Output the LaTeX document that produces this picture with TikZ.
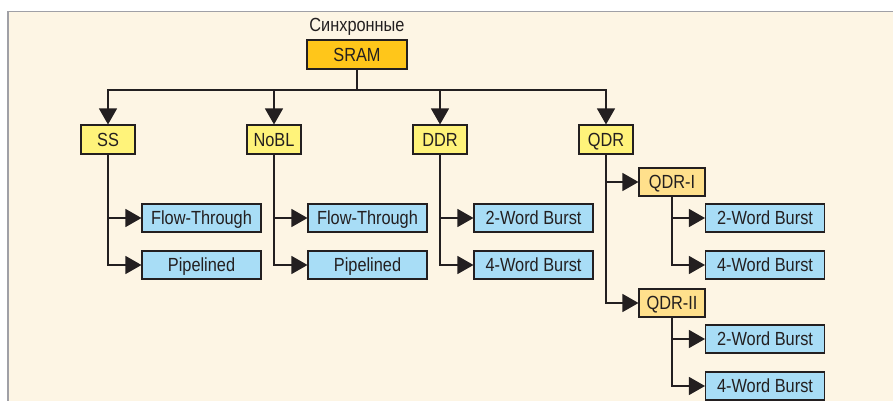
\documentclass[tikz,border=0pt]{standalone}
\usepackage{fontspec}
\setmainfont{Liberation Sans}[FakeStretch=0.86]
\usetikzlibrary{arrows.meta}
\definecolor{cream}{RGB}{253,245,228}
\definecolor{frame}{RGB}{160,160,166}
\definecolor{ink}{RGB}{35,31,32}
\definecolor{gold}{RGB}{255,198,26}
\definecolor{lyellow}{RGB}{255,243,122}
\definecolor{lblue}{RGB}{168,221,246}
\definecolor{lorange}{RGB}{255,224,140}
\tikzset{
  box/.style={draw=ink, line width=1.1pt, inner sep=0pt, text=ink,
    font=\fontsize{19}{20}\selectfont, text height=13.6pt, text depth=0pt},
  rootbox/.style={box, fill=gold, minimum width=100pt, minimum height=29pt},
  midbox/.style={box, fill=lyellow, minimum width=54pt, minimum height=29pt},
  qbox/.style={box, fill=lorange, minimum width=66pt, minimum height=28pt},
  leafbox/.style={box, fill=lblue, minimum width=119pt, minimum height=28pt},
  arr/.style={draw=ink, line width=1.2pt, -{Triangle[length=16pt,width=18pt]}},
  conn/.style={draw=ink, line width=1.2pt}
}
\begin{document}
\begin{tikzpicture}[x=1pt,y=-1pt]
\useasboundingbox (0,0) rectangle (893,401);
\fill[white] (0,0) rectangle (893,401);
\fill[cream] (8,11.5) rectangle (893,401);
\draw[frame, line width=1.8pt] (8,401) -- (8,11.5) -- (893,11.5);

\node[text=ink, font=\fontsize{19}{20}\selectfont, inner sep=0pt, text height=13.6pt, text depth=0pt] (title) at (357,25) {Синхронные};
\node[rootbox] (sram) at (357,54.5) {SRAM};

\node[midbox] (ss) at (108,139.5) {SS};
\node[midbox] (nobl) at (274,139.5) {NoBL};
\node[midbox] (ddr) at (440,139.5) {DDR};
\node[midbox] (qdr) at (606,139.5) {QDR};

\node[leafbox] (ssft) at (201.5,218) {Flow-Through};
\node[leafbox] (sspl) at (201.5,265) {Pipelined};
\node[leafbox] (noft) at (367.5,218) {Flow-Through};
\node[leafbox] (nopl) at (367.5,265) {Pipelined};
\node[leafbox] (ddrtwo) at (533.5,218) {2-Word Burst};
\node[leafbox] (ddrfour) at (533.5,265) {4-Word Burst};

\node[qbox] (qone) at (672,182) {QDR-I};
\node[qbox] (qtwo) at (672,303) {QDR-II};
\node[leafbox] (qonetwo) at (765,218) {2-Word Burst};
\node[leafbox] (qonefour) at (765,265) {4-Word Burst};
\node[leafbox] (qtwotwo) at (765,339) {2-Word Burst};
\node[leafbox] (qtwofour) at (765,386) {4-Word Burst};

\coordinate (bus) at (357,90);
\draw[arr] (sram.south) -- (bus) -| (ss.north);
\draw[arr] (sram.south) -- (bus) -| (nobl.north);
\draw[arr] (sram.south) -- (bus) -| (ddr.north);
\draw[arr] (sram.south) -- (bus) -| (qdr.north);

\draw[arr] (ss.south) |- (ssft.west);
\draw[arr] (ss.south) |- (sspl.west);
\draw[arr] (nobl.south) |- (noft.west);
\draw[arr] (nobl.south) |- (nopl.west);
\draw[arr] (ddr.south) |- (ddrtwo.west);
\draw[arr] (ddr.south) |- (ddrfour.west);
\draw[arr] (qdr.south) |- (qone.west);
\draw[arr] (qdr.south) |- (qtwo.west);
\draw[arr] (qone.south) |- (qonetwo.west);
\draw[arr] (qone.south) |- (qonefour.west);
\draw[arr] (qtwo.south) |- (qtwotwo.west);
\draw[arr] (qtwo.south) |- (qtwofour.west);
\end{tikzpicture}
\end{document}
